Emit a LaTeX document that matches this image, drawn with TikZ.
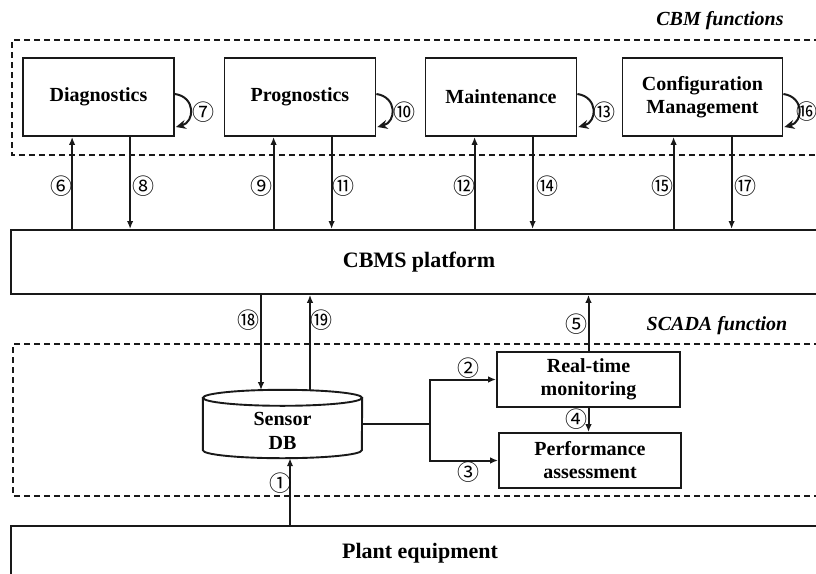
\documentclass[tikz,border=0pt]{standalone}
\usepackage{fontspec}
\setmainfont{Liberation Serif}
\newfontfamily\cjk{Noto Sans CJK KR}
\usetikzlibrary{arrows.meta,calc}

\begin{document}
\begin{tikzpicture}[x=1pt,y=-1pt,
  ink/.style={draw=black!90},
  box/.style={ink, line width=1.8pt, inner sep=0pt, align=center,
    font=\fontsize{20}{23}\selectfont\bfseries},
  bigbox/.style={box, font=\fontsize{22}{26}\selectfont\bfseries},
  group/.style={ink, line width=1.4pt, dash pattern=on 6pt off 4pt},
  title/.style={font=\fontsize{20}{24}\selectfont\bfseries\itshape},
  arr/.style={ink, line width=2pt, -{Latex[length=8pt,width=6.5pt]}},
  loop/.style={ink, line width=2pt, -{Stealth[length=10pt,width=9pt]}},
  line/.style={ink, line width=1.9pt},
  num/.style={inner sep=0pt, font=\cjk\fontsize{22}{22}\selectfont},
]
\useasboundingbox (0,0) rectangle (816,573);
\clip (0,0) rectangle (816,573);

% ---------------- CBM functions group ----------------
\draw[group] (840,40) -- (12,40) -- (12,155) -- (840,155);
\node[title] (cbmt) at (720,21) {CBM functions};

\node[box, minimum width=151pt, minimum height=78pt] (diag) at (98.5,97) {Diagnostics};
\node[box, minimum width=151pt, minimum height=78pt] (prog) at (300,97) {Prognostics};
\node[box, minimum width=151pt, minimum height=78pt] (mant) at (501,97) {Maintenance};
\node[box, minimum width=160pt, minimum height=78pt] (conf) at (702.5,97) {Configuration\\Management};

% self loops
\foreach \b in {diag, prog, mant, conf}{
  \draw[loop] ([yshift=3pt]\b.east) .. controls +(21pt,-3pt) and +(19pt,5pt) .. ([yshift=-30pt,xshift=1pt]\b.east);
}
\node[num] (n7) at (203,112) {⑦};
\node[num] (n10) at (404,112) {⑩};
\node[num] (n13) at (604,112) {⑬};
\node[num, font=\cjk\fontsize{21}{21}\selectfont] (n16) at (806.5,112) {⑯};

% ---------------- CBMS platform ----------------
\node[bigbox, minimum width=820pt, minimum height=64pt, anchor=north west] (cbms) at (10,229) {};
\node[font=\fontsize{22}{26}\selectfont\bfseries] (cbmst) at (419,262) {CBMS platform};

% links between CBM functions and the platform
\coordinate (u6) at ([xshift=50pt]diag.south west);
\coordinate (d8) at ([xshift=108pt]diag.south west);
\coordinate (u9) at ([xshift=50pt]prog.south west);
\coordinate (d11) at ([xshift=108pt]prog.south west);
\coordinate (u12) at ([xshift=50pt]mant.south west);
\coordinate (d14) at ([xshift=108pt]mant.south west);
\coordinate (u15) at ([xshift=52pt]conf.south west);
\coordinate (d17) at ([xshift=110pt]conf.south west);
\foreach \u in {u6,u9,u12,u15}{ \draw[arr] (cbms.north -| \u) -- (\u); }
\foreach \d in {d8,d11,d14,d17}{ \draw[arr] (\d) -- (cbms.north -| \d); }
\node[num] (n6) at (61,186) {⑥};
\node[num] (n8) at (143,186) {⑧};
\node[num] (n9) at (261,186) {⑨};
\node[num] (n11) at (343,186) {⑪};
\node[num] (n12) at (464,186) {⑫};
\node[num] (n14) at (547,186) {⑭};
\node[num] (n15) at (662,186) {⑮};
\node[num] (n17) at (745,186) {⑰};

% ---------------- SCADA function group ----------------
\draw[group] (840,344) -- (13,344) -- (13,496) -- (840,496);
\node[title] (scadat) at (717,326) {SCADA function};

% Sensor DB cylinder
\node[inner sep=0pt, minimum width=159pt, minimum height=52pt] (db) at (282.5,424) {};
\draw[line] (db.north) ellipse[x radius=79.5pt, y radius=8pt];
\draw[line] (db.north west) -- (db.south west)
  arc[start angle=180, end angle=360, x radius=79.5pt, y radius=8pt] -- (db.north east);
\node[align=center, font=\fontsize{20}{24}\selectfont\bfseries] (dbt) at (282.5,431) {Sensor\\DB};

\node[box, minimum width=183pt, minimum height=55pt] (rt) at (588.5,379.5) {Real-time\\monitoring};
\node[box, minimum width=182pt, minimum height=55pt] (pa) at (590,460.5) {Performance\\assessment};

% platform <-> Sensor DB
\coordinate (e18) at ([xshift=-21.5pt,yshift=7.7pt]db.north);
\coordinate (s19) at ([xshift=27.5pt,yshift=7.5pt]db.north);
\draw[arr] (cbms.south -| e18) -- (e18);
\draw[arr] (s19) -- (cbms.south -| s19);
\node[num] (n18) at (248,320) {⑱};
\node[num] (n19) at (321,320) {⑲};

% Sensor DB -> monitoring / assessment
\coordinate (br) at (430,424);
\draw[line] (db.east) -- (br);
\draw[arr] (br) |- (rt.west);
\draw[arr] (br) |- (pa.west);
\node[num] (n2) at (468,368) {②};
\node[num] (n3) at (468,472) {③};

\draw[arr] (rt.south) -- (rt.south |- pa.north);
\node[num] (n4) at (576,419) {④};
\draw[arr] (rt.north) -- (rt.north |- cbms.south);
\node[num] (n5) at (576,324) {⑤};

% ---------------- Plant equipment ----------------
\node[bigbox, minimum width=820pt, minimum height=70pt, anchor=north west] (plant) at (10,525) {};
\node[font=\fontsize{22}{26}\selectfont\bfseries] (plantt) at (420,553) {Plant equipment};

\coordinate (e1) at ([xshift=7.5pt,yshift=-8pt]db.south);
\draw[arr] (plant.north -| e1) -- (e1);
\node[num] (n1) at (280,483) {①};
\end{tikzpicture}
\end{document}
